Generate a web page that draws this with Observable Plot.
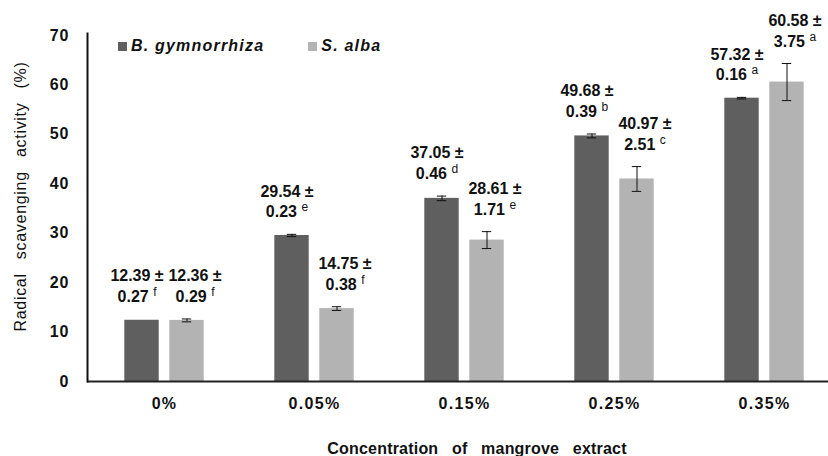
<!DOCTYPE html>
<html><head><meta charset="utf-8">
<script src="https://cdn.jsdelivr.net/npm/d3@7"></script>
<script src="https://cdn.jsdelivr.net/npm/@observablehq/plot@0.6"></script>
<style>
body{margin:0;background:#fff;}
#wrap{position:relative;width:828px;height:456px;overflow:hidden;}
.legend{position:absolute;top:37px;left:118px;display:flex;align-items:center;font:italic bold 16px "Liberation Sans",Arial,sans-serif;color:#111;letter-spacing:1.2px;line-height:18px;white-space:nowrap}
.sw{display:inline-block;width:9px;height:9px;margin-right:4px}
</style></head><body><div id="wrap"></div>
<script>
// ---- data ----
const categories = ["0%", "0.05%", "0.15%", "0.25%", "0.35%"];
const seriesNames = ["B. gymnorrhiza", "S. alba"];
const meanB = [12.39, 29.54, 37.05, 49.68, 57.32];
const sdB = [0.27, 0.23, 0.46, 0.39, 0.16];
const letterB = ["f", "e", "d", "b", "a"];
const meanS = [12.36, 14.75, 28.61, 40.97, 60.58];
const sdS = [0.29, 0.38, 1.71, 2.51, 3.75];
const letterS = ["f", "f", "e", "c", "a"];
const whiskerB = [false, true, true, true, true]; // reference draws no whisker on the 0% B bar
const whiskerS = [true, true, true, true, true];
const yTicks = [0, 10, 20, 30, 40, 50, 60, 70];
const colors = ["#5f5f5f", "#b3b3b3"];
const xTitle = "Concentration of mangrove extract";
const yTitle = "Radical scavenging activity (%)";

const sup = {a: "ᵃ", b: "ᵇ", c: "ᶜ", d: "ᵈ", e: "ᵉ", f: "ᶠ"};
function rowsFor(means, sds, letters, whisk, name) {
  return categories.map((c, i) => ({cat: c, series: name, mean: means[i], sd: sds[i], letter: letters[i], whisker: whisk[i]}));
}
const rowsB = rowsFor(meanB, sdB, letterB, whiskerB, seriesNames[0]);
const rowsS = rowsFor(meanS, sdS, letterS, whiskerS, seriesNames[1]);

// ---- layout ----
const W = 828, H = 456, mLeft = 87, xRight = 840, mTop = 35, mBottom = 75;
const step = (xRight - mLeft) / categories.length;
const barW = 35, gap = 10, off = (barW + gap) / 2, capW = 10;
const barInset = (step - barW) / 2, capInset = (step - capW) / 2;
const font = "'Liberation Sans', Arial, sans-serif";

function seriesMarks(rows, color, dx, labelDx) {
  const wr = rows.filter(d => d.whisker);
  const caps = wr.flatMap(d => [{cat: d.cat, v: d.mean - d.sd}, {cat: d.cat, v: d.mean + d.sd}]);
  return [
    Plot.barY(rows, {x: "cat", y: "mean", fill: color, insetLeft: barInset, insetRight: barInset, dx}),
    Plot.ruleX(wr, {x: "cat", y1: d => d.mean - d.sd, y2: d => d.mean + d.sd, stroke: "#111", strokeWidth: 1, dx}),
    Plot.tickY(caps, {x: "cat", y: "v", stroke: "#111", strokeWidth: 1, insetLeft: capInset, insetRight: capInset, dx}),
    Plot.text(rows, {
      x: "cat", y: d => d.mean + d.sd,
      text: d => `${d.mean.toFixed(2)} ±\n${d.sd.toFixed(2)} ${sup[d.letter]}`,
      lineAnchor: "middle", lineHeight: 1.3, dy: -34, dx: dx + labelDx,
      fontSize: 16, fontWeight: "bold", fill: "#111"
    })
  ];
}

const chart = Plot.plot({
  width: W, height: H,
  marginLeft: mLeft, marginRight: 0, marginTop: mTop, marginBottom: mBottom,
  style: {fontFamily: font, fontSize: "16px", color: "#111", background: "#fff", overflow: "visible"},
  x: {type: "band", domain: categories, range: [mLeft, xRight], padding: 0},
  y: {domain: [0, 70], range: [H - mBottom, mTop]},
  marks: [
    ...seriesMarks(rowsB, colors[0], -off, -5),
    ...seriesMarks(rowsS, colors[1], off, 8),
    Plot.ruleY([0], {stroke: "#222", strokeWidth: 2}),
    Plot.frame({anchor: "left", stroke: "#111", strokeWidth: 2, insetTop: -2}),
    Plot.axisY({ticks: yTicks, tickSize: 0, tickPadding: 18, fontSize: 16, fontWeight: "bold", label: null}),
    Plot.axisX({tickSize: 0, tickPadding: 16, fontSize: 16, fontWeight: "bold", label: null}),
    Plot.text([xTitle], {frameAnchor: "bottom", textAnchor: "middle", dy: 67, dx: 19, lineAnchor: "middle", fontSize: 16, fontWeight: "bold", fill: "#111"}),
    Plot.text([yTitle], {frameAnchor: "left", textAnchor: "middle", rotate: -90, dx: -67, dy: -12, lineAnchor: "middle", fontSize: 16, fill: "#111"})
  ]
});
const wrap = document.getElementById("wrap");
wrap.appendChild(chart);

// text styling after render
const svgns = "http://www.w3.org/2000/svg";
const rev = Object.fromEntries(Object.entries(sup).map(([k, v]) => [v, k]));
chart.querySelectorAll("text").forEach(t => {
  const s = t.textContent;
  if (s === xTitle) { t.style.wordSpacing = "9px"; t.style.letterSpacing = "0.2px"; }
  else if (s === yTitle) { t.style.wordSpacing = "9px"; t.style.letterSpacing = "0.7px"; }
  else if (categories.includes(s)) { t.style.letterSpacing = "1.3px"; }
  else if (yTicks.map(String).includes(s)) { t.style.letterSpacing = "1px"; }
});
// turn the modifier letters into real superscript tspans (regular weight, smaller, raised)
chart.querySelectorAll("tspan").forEach(ts => {
  const t = ts.textContent;
  const last = t.slice(-1);
  if (rev[last]) {
    ts.textContent = t.slice(0, -1);
    const s = document.createElementNS(svgns, "tspan");
    s.textContent = rev[last];
    s.setAttribute("dy", "-6");
    s.setAttribute("font-size", "12");
    s.setAttribute("font-weight", "normal");
    ts.appendChild(s);
  }
});

// legend (inside the plot area, top-left)
const legend = document.createElement("div");
legend.className = "legend";
seriesNames.forEach((name, i) => {
  const item = document.createElement("span");
  item.style.display = "inline-flex";
  item.style.alignItems = "center";
  item.style.marginRight = i === 0 ? "44px" : "0";
  const sw = document.createElement("span");
  sw.className = "sw";
  sw.style.background = colors[i];
  item.appendChild(sw);
  item.appendChild(document.createTextNode(name));
  legend.appendChild(item);
});
wrap.appendChild(legend);
</script>
</body></html>
